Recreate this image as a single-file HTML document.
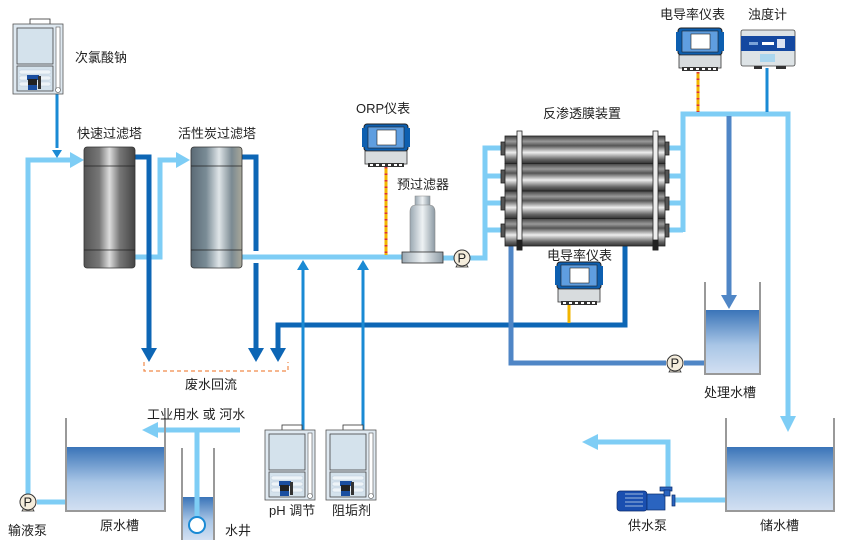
<!DOCTYPE html>
<html><head><meta charset="utf-8"><style>
html,body{margin:0;padding:0;background:#fff}
svg{display:block}
text{font-family:"Liberation Sans","Noto Sans CJK SC",sans-serif;font-size:13px;fill:#222}
</style></head><body>
<svg width="846" height="559" viewBox="0 0 846 559" xmlns="http://www.w3.org/2000/svg">
<defs>
<linearGradient id="steel" x1="0" x2="1" y1="0" y2="0">
<stop offset="0" stop-color="#555"/><stop offset="0.3" stop-color="#777"/><stop offset="0.5" stop-color="#ddd"/><stop offset="0.7" stop-color="#777"/><stop offset="1" stop-color="#444"/></linearGradient>
<linearGradient id="steel2" x1="0" x2="1" y1="0" y2="0">
<stop offset="0" stop-color="#5b6a75"/><stop offset="0.3" stop-color="#7a8c96"/><stop offset="0.55" stop-color="#dfe5e8"/><stop offset="0.8" stop-color="#7b8a92"/><stop offset="1" stop-color="#aaa89a"/></linearGradient>
<linearGradient id="tube" x1="0" x2="0" y1="0" y2="1">
<stop offset="0" stop-color="#444"/><stop offset="0.2" stop-color="#999"/><stop offset="0.35" stop-color="#555"/><stop offset="0.6" stop-color="#eee"/><stop offset="0.85" stop-color="#666"/><stop offset="1" stop-color="#333"/></linearGradient>
<linearGradient id="water" x1="0" x2="0" y1="0" y2="1">
<stop offset="0" stop-color="#3a74b8"/><stop offset="0.55" stop-color="#a9c6e6"/><stop offset="1" stop-color="#d3e0f2"/></linearGradient>
<linearGradient id="pf" x1="0" x2="1"><stop offset="0" stop-color="#9aa8b2"/><stop offset="0.5" stop-color="#eef2f4"/><stop offset="1" stop-color="#8c9aa4"/></linearGradient>
<g id="chem">
<rect x="17" y="0" width="20" height="6" fill="#fff" stroke="#333" stroke-width="0.8"/>
<rect x="0" y="5" width="50" height="70" fill="#dfe9f1" stroke="#555" stroke-width="0.8"/>
<rect x="4" y="9" width="36" height="36" fill="#d4e2ec" stroke="#444" stroke-width="0.8"/>
<rect x="4" y="47" width="36" height="25" fill="#d4e2ec" stroke="#444" stroke-width="0.8"/>
<rect x="43" y="8" width="4" height="64" fill="#fff" stroke="#555" stroke-width="0.6"/>
<rect x="6" y="51" width="32" height="4" rx="2" fill="#eef4f8" stroke="#bcd" stroke-width="0.5"/>
<rect x="6" y="57" width="32" height="4" rx="2" fill="#eef4f8" stroke="#bcd" stroke-width="0.5"/>
<rect x="6" y="63" width="32" height="4" rx="2" fill="#eef4f8" stroke="#bcd" stroke-width="0.5"/>
<rect x="14" y="56" width="12" height="5" fill="#1a4ea0"/>
<rect x="15" y="60" width="9" height="10" fill="#222"/>
<rect x="15" y="66" width="9" height="5" fill="#1a4ea0"/>
<rect x="25" y="57" width="3" height="13" fill="#333"/>
<circle cx="45" cy="71" r="2.5" fill="#fff" stroke="#555" stroke-width="0.6"/>
</g>
<g id="meter">
<rect x="2" y="0" width="44" height="27" rx="3" fill="#0d5fb0" stroke="#222" stroke-width="1"/>
<rect x="0" y="4" width="3" height="19" fill="#0d5fb0"/><rect x="45" y="4" width="3" height="19" fill="#0d5fb0"/>
<rect x="6" y="3" width="36" height="21" fill="#5f9ee0" stroke="#222" stroke-width="0.6"/>
<rect x="15" y="6" width="19" height="15" fill="#fff" stroke="#222" stroke-width="0.6"/>
<path d="M3 27 H45 V40 H3 Z" fill="#d8dcde" stroke="#333" stroke-width="0.8"/>
<rect x="6" y="39" width="36" height="4" fill="#333"/>
<g fill="#fff"><rect x="8" y="40" width="3" height="2"/><rect x="14" y="40" width="3" height="2"/><rect x="20" y="40" width="3" height="2"/><rect x="26" y="40" width="3" height="2"/><rect x="32" y="40" width="3" height="2"/><rect x="37" y="40" width="3" height="2"/></g>
</g>
<g id="pump">
<path d="M-6 9 L-3 4 H3 L6 9 Z" fill="#f5eddc" stroke="#333" stroke-width="0.8"/>
<circle r="8" fill="#f5eddc" stroke="#333" stroke-width="1"/>
<text x="-4.5" y="4.5" style="font-size:13px">P</text>
</g>
</defs>

<g fill="none" stroke-linejoin="miter">
<path d="M66 502 H37" stroke="#7ecdf5" stroke-width="5"/>
<path d="M28 494 V160 H72" stroke="#7ecdf5" stroke-width="5"/>
<path d="M135 257 H160 V160 H178" stroke="#7ecdf5" stroke-width="5"/>
<path d="M242 257 H403" stroke="#7ecdf5" stroke-width="5"/>
<path d="M443 258 H454" stroke="#7ecdf5" stroke-width="5"/>
<path d="M470 258 H485 V148 H505 M485 176 H505 M485 203 H505 M485 230 H505" stroke="#7ecdf5" stroke-width="5"/>
<path d="M665 148 H683 M665 176 H683 M665 203 H683 M665 230 H683" stroke="#7ecdf5" stroke-width="5"/>
<path d="M683 232 V114 H788 V418" stroke="#7ecdf5" stroke-width="5"/>
<path d="M726 500 H672" stroke="#7ecdf5" stroke-width="5"/>
<path d="M668 490 V442 H596" stroke="#7ecdf5" stroke-width="5"/>
<path d="M197 517 V430" stroke="#7ecdf5" stroke-width="5"/>
<path d="M240 430 H156" stroke="#7ecdf5" stroke-width="5"/>
<path d="M135 157 H149 V350" stroke="#0d66b5" stroke-width="5"/>
<path d="M242 157 H256 V251 M256 263 V350" stroke="#0d66b5" stroke-width="5"/>
<path d="M625 246 V325 H278 V350" stroke="#0d66b5" stroke-width="5"/>
<path d="M511 246 V363 H666" stroke="#4f86c6" stroke-width="5"/>
<path d="M684 363 H705" stroke="#4f86c6" stroke-width="5"/>
<path d="M729 116 V296" stroke="#4f86c6" stroke-width="5"/>
<path d="M45 75 H57 V148" stroke="#1a8ad4" stroke-width="3"/>
<path d="M291 475 H303 V270" stroke="#1a8ad4" stroke-width="3"/>
<path d="M352 475 H363 V270" stroke="#1a8ad4" stroke-width="3"/>
<path d="M767 68 V112" stroke="#1a8ad4" stroke-width="3"/>
<line x1="386" y1="167" x2="386" y2="255" stroke="#f2b500" stroke-width="3"/>
<line x1="386" y1="167" x2="386" y2="255" stroke="#d33" stroke-width="3" stroke-dasharray="1.5 5"/>
<line x1="698" y1="72" x2="698" y2="112" stroke="#f2b500" stroke-width="3"/>
<line x1="698" y1="72" x2="698" y2="112" stroke="#d33" stroke-width="3" stroke-dasharray="1.5 5"/>
<line x1="569" y1="305" x2="569" y2="323" stroke="#f2b500" stroke-width="3"/>
<path d="M144 362 V371 H288 V362" stroke="#f08a4a" stroke-width="1.2" stroke-dasharray="4 3"/>
</g>
<g>
<polygon points="52,150 62,150 57,158" fill="#1a8ad4"/>
<polygon points="70,152 84,160 70,168" fill="#7ecdf5"/>
<polygon points="176,152 190,160 176,168" fill="#7ecdf5"/>
<polygon points="141,348 157,348 149,362" fill="#0d66b5"/>
<polygon points="248,348 264,348 256,362" fill="#0d66b5"/>
<polygon points="270,348 286,348 278,362" fill="#0d66b5"/>
<polygon points="297,270 309,270 303,260" fill="#1a8ad4"/>
<polygon points="357,270 369,270 363,260" fill="#1a8ad4"/>
<polygon points="721,295 737,295 729,309" fill="#4f86c6"/>
<polygon points="780,416 796,416 788,432" fill="#7ecdf5"/>
<polygon points="598,434 598,450 582,442" fill="#7ecdf5"/>
<polygon points="158,422 158,438 142,430" fill="#7ecdf5"/>
</g>

<use href="#chem" x="13" y="19"/>
<use href="#chem" x="265" y="425"/>
<use href="#chem" x="326" y="425"/>

<rect x="84" y="147" width="51" height="121" rx="3" fill="url(#steel)" stroke="#333" stroke-width="0.8"/>
<line x1="84" y1="166" x2="135" y2="166" stroke="#222" stroke-width="0.8"/>
<line x1="84" y1="250" x2="135" y2="250" stroke="#222" stroke-width="0.8"/>
<rect x="191" y="147" width="51" height="121" rx="3" fill="url(#steel2)" stroke="#333" stroke-width="0.8"/>
<line x1="191" y1="166" x2="242" y2="166" stroke="#222" stroke-width="0.8"/>
<line x1="191" y1="250" x2="242" y2="250" stroke="#222" stroke-width="0.8"/>

<rect x="415" y="196" width="15" height="10" fill="url(#pf)" stroke="#888" stroke-width="0.5"/>
<path d="M410 252 V212 Q410 205 416 205 H429 Q435 205 435 212 V252 Z" fill="url(#pf)" stroke="#888" stroke-width="0.6"/>
<rect x="402" y="252" width="41" height="11" fill="url(#pf)" stroke="#333" stroke-width="0.8"/>

<g stroke="#222" stroke-width="0.8">
<rect x="501" y="142" width="6" height="13" fill="#555"/><rect x="501" y="170" width="6" height="13" fill="#555"/><rect x="501" y="197" width="6" height="13" fill="#555"/><rect x="501" y="224" width="6" height="13" fill="#555"/>
<rect x="663" y="142" width="6" height="13" fill="#555"/><rect x="663" y="170" width="6" height="13" fill="#555"/><rect x="663" y="197" width="6" height="13" fill="#555"/><rect x="663" y="224" width="6" height="13" fill="#555"/>
<rect x="505" y="136" width="160" height="27.5" fill="url(#tube)"/>
<rect x="505" y="163.5" width="160" height="27.5" fill="url(#tube)"/>
<rect x="505" y="191" width="160" height="27.5" fill="url(#tube)"/>
<rect x="505" y="218.5" width="160" height="27.5" fill="url(#tube)"/>
<rect x="517" y="131" width="5" height="119" fill="#eee"/>
<rect x="653" y="131" width="5" height="119" fill="#eee"/>
<rect x="517" y="240" width="5" height="10" fill="#222"/>
<rect x="653" y="240" width="5" height="10" fill="#222"/>
</g>

<use href="#meter" x="362" y="124"/>
<use href="#meter" x="676" y="28"/>
<use href="#meter" x="555" y="262"/>
<g>
<rect x="741" y="30" width="54" height="36" rx="2" fill="#dde3e6" stroke="#444" stroke-width="0.8"/>
<rect x="741" y="36" width="54" height="15" fill="#1448a0"/>
<rect x="749" y="42" width="9" height="3" fill="#7aa3d8"/>
<rect x="762" y="42" width="12" height="3" fill="#fff"/>
<rect x="777" y="39" width="8" height="9" fill="#fff" opacity="0.85"/>
<rect x="760" y="54" width="15" height="8" fill="#aad6ee"/>
<rect x="754" y="66" width="8" height="3" fill="#333"/><rect x="776" y="66" width="10" height="3" fill="#333"/>
</g>

<use href="#pump" x="28" y="502"/>
<use href="#pump" x="462" y="258"/>
<use href="#pump" x="675" y="363"/>

<g stroke="#0a2a6a" stroke-width="0.7">
<rect x="617" y="491" width="30" height="20" rx="3" fill="#1a4fb0"/>
<g stroke="#cde" stroke-width="0.8"><line x1="625" y1="494" x2="643" y2="494"/><line x1="625" y1="498" x2="643" y2="498"/><line x1="625" y1="502" x2="643" y2="502"/><line x1="625" y1="506" x2="643" y2="506"/></g>
<rect x="647" y="494" width="18" height="16" fill="#2a64c0"/>
<rect x="660" y="487" width="12" height="4" fill="#2a64c0"/>
<rect x="664" y="490" width="6" height="6" fill="#2a64c0"/>
<rect x="672" y="495" width="3" height="11" fill="#2a64c0"/>
</g>

<rect x="66" y="447" width="99" height="64" fill="url(#water)"/>
<path d="M66 418 V511 H165 V418" fill="none" stroke="#999" stroke-width="2"/>
<rect x="181" y="497" width="33" height="43" fill="url(#water)"/>
<path d="M182 448 V540 M214 448 V540" fill="none" stroke="#999" stroke-width="2"/>
<line x1="197" y1="497" x2="197" y2="517" stroke="#7ecdf5" stroke-width="5"/>
<circle cx="197" cy="525" r="8" fill="#fff" stroke="#1a8ad4" stroke-width="2"/>
<rect x="705" y="310" width="55" height="64" fill="url(#water)"/>
<path d="M705 282 V374 H760 V282" fill="none" stroke="#999" stroke-width="2"/>
<rect x="726" y="447" width="108" height="64" fill="url(#water)"/>
<path d="M726 418 V511 H834 V418" fill="none" stroke="#999" stroke-width="2"/>

<text x="75" y="62">次氯酸钠</text>
<text x="77" y="138">快速过滤塔</text>
<text x="178" y="138">活性炭过滤塔</text>
<text x="356" y="113">ORP仪表</text>
<text x="397" y="189">预过滤器</text>
<text x="543" y="118">反渗透膜装置</text>
<text x="660" y="19">电导率仪表</text>
<text x="748" y="19">浊度计</text>
<text x="547" y="260">电导率仪表</text>
<text x="185" y="389">废水回流</text>
<text x="147" y="419">工业用水 或 河水</text>
<text x="704" y="397">处理水槽</text>
<text x="269" y="515">pH 调节</text>
<text x="332" y="515">阻垢剂</text>
<text x="8" y="535">输液泵</text>
<text x="100" y="530">原水槽</text>
<text x="225" y="535">水井</text>
<text x="628" y="530">供水泵</text>
<text x="760" y="530">储水槽</text>
</svg>
</body></html>
